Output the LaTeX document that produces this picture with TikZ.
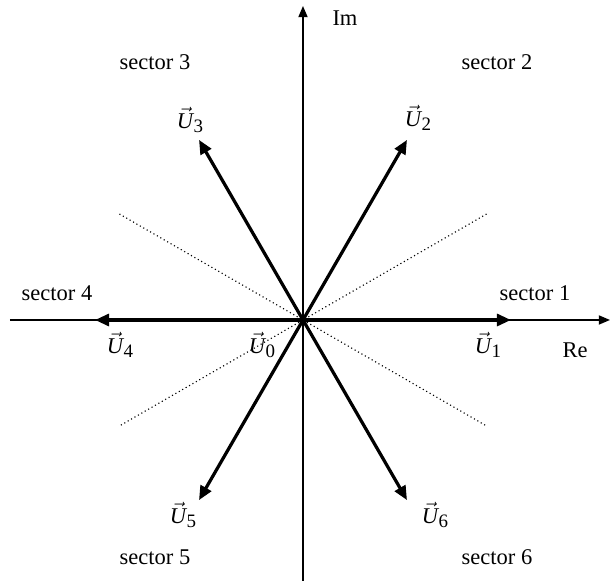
\documentclass[tikz,border=0pt]{standalone}
\usepackage{fontspec}
\setmainfont{Liberation Serif}
\usetikzlibrary{arrows.meta,positioning,calc}
\newcommand{\uvec}[1]{$\vec{\mbox{\itshape U}}$\kern0.5pt\raisebox{-0.35ex}{\fontsize{13.5}{16}\selectfont #1}}

\begin{document}
\begin{tikzpicture}[
    axis/.style={draw=black,line width=1.1pt,-{Triangle[length=8pt,width=6.5pt]}},
    vect/.style={draw=black,line width=2.3pt,-{Triangle[length=10pt,width=8.5pt]}},
    border/.style={draw=black,dotted,line width=0.8pt},
    lab/.style={font=\fontsize{16}{19}\selectfont,inner sep=0pt},
  ]
    \useasboundingbox (-7.575,-6.525) rectangle (7.8,8.0);
    \coordinate (O) at (0,0);
    % axes
    \coordinate (reL) at (-7.325,0);
    \coordinate (reR) at (7.675,0);
    \coordinate (imB) at (0,-6.525);
    \coordinate (imT) at (0,7.85);
    \draw[axis] (reL) -- (reR);
    \draw[axis] (imB) -- (imT);
    % sector borders
    \foreach \a [count=\i] in {30,150,210,330}
      \coordinate (b\i) at (\a:5.3);
    \draw[border] (b1) -- (b3);
    \draw[border] (b2) -- (b4);
    % voltage vectors
    \foreach \a [count=\i] in {0,60,120,180,240,300}
      \coordinate (u\i) at (\a:5.2);
    \foreach \i in {1,...,6}
      \draw[vect] (O) -- (u\i);
    % labels
    \node[lab] (im) at (1.05,7.55) {Im};
    \node[lab] (re) at (6.8,-0.75) {Re};
    \node[lab] (lu0) at (-1.025,-0.625) {\uvec{0}};
    \node[lab] (lu1) at (4.625,-0.625) {\uvec{1}};
    \node[lab] (lu2) at (2.875,5.05) {\uvec{2}};
    \node[lab] (lu3) at (-2.825,5.0) {\uvec{3}};
    \node[lab] (lu4) at (-4.575,-0.625) {\uvec{4}};
    \node[lab] (lu5) at (-3.0,-4.875) {\uvec{5}};
    \node[lab] (lu6) at (3.3,-4.875) {\uvec{6}};
    \node[lab] (s1) at (5.8,0.675) {sector 1};
    \node[lab] (s2) at (4.85,6.45) {sector 2};
    \node[lab] (s3) at (-3.7,6.45) {sector 3};
    \node[lab] (s4) at (-6.15,0.675) {sector 4};
    \node[lab] (s5) at (-3.7,-5.925) {sector 5};
    \node[lab] (s6) at (4.85,-5.925) {sector 6};
  \end{tikzpicture}
\end{document}
